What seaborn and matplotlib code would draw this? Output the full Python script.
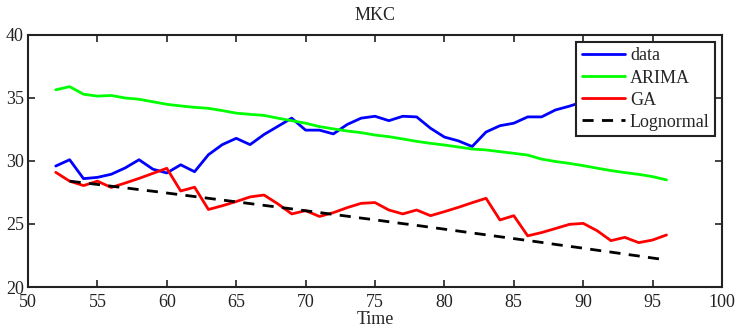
import matplotlib
matplotlib.use("Agg")
import matplotlib.pyplot as plt
import seaborn as sns

# Time steps of the forecast window
time = list(range(52, 97))

data_vals = [29.6, 30.1, 28.6, 28.7, 28.95, 29.45, 30.1, 29.35, 29.05, 29.7,
             29.15, 30.5, 31.3, 31.8, 31.3, 32.1, 32.75, 33.4, 32.45, 32.45,
             32.15, 32.9, 33.4, 33.55, 33.2, 33.55, 33.5, 32.6, 31.9, 31.6,
             31.15, 32.3, 32.8, 33.0, 33.5, 33.5, 34.05, 34.35, 34.7, 35.0,
             35.4, 35.9, 36.2, 36.6, 37.0]

arima_vals = [35.65, 35.9, 35.3, 35.15, 35.2, 35.0, 34.9, 34.7, 34.5, 34.37,
              34.26, 34.18, 34.0, 33.8, 33.7, 33.62, 33.4, 33.2, 33.0, 32.73,
              32.55, 32.38, 32.25, 32.06, 31.93, 31.75, 31.56, 31.4, 31.27, 31.11,
              30.95, 30.88, 30.74, 30.61, 30.47, 30.15, 29.96, 29.81, 29.63, 29.43,
              29.24, 29.08, 28.94, 28.76, 28.5]

ga_vals = [29.1, 28.4, 28.05, 28.4, 27.9, 28.25, 28.62, 29.02, 29.42, 27.62,
           27.92, 26.15, 26.45, 26.78, 27.15, 27.3, 26.6, 25.8, 26.06, 25.6,
           25.9, 26.3, 26.64, 26.7, 26.11, 25.8, 26.11, 25.66, 25.98, 26.32,
           26.69, 27.04, 25.32, 25.66, 24.06, 24.32, 24.64, 24.97, 25.05, 24.47,
           23.68, 23.94, 23.52, 23.73, 24.13]

lognormal_time = list(range(53, 97))
lognormal_vals = [28.40, 28.27, 28.14, 28.00, 27.87, 27.73, 27.60, 27.46, 27.32, 27.18,
                  27.04, 26.90, 26.76, 26.62, 26.48, 26.34, 26.20, 26.05, 25.91, 25.76,
                  25.62, 25.47, 25.33, 25.18, 25.03, 24.89, 24.74, 24.59, 24.44, 24.29,
                  24.14, 23.99, 23.84, 23.69, 23.54, 23.38, 23.23, 23.08, 22.92, 22.77,
                  22.61, 22.46, 22.30, 22.15]

x_ticks = [50, 55, 60, 65, 70, 75, 80, 85, 90, 95, 100]
y_ticks = [20, 25, 30, 35, 40]

sns.set_style("ticks")
plt.rcParams["font.family"] = ["Liberation Serif", "DejaVu Serif"]
plt.rcParams["xtick.direction"] = "in"
plt.rcParams["ytick.direction"] = "in"

fig = plt.figure(figsize=(7.35, 3.3), dpi=100)
ax = fig.add_axes([28 / 735, 1 - 287 / 330, (722 - 28) / 735, (287 - 35) / 330])

lw = 2.0
sns.lineplot(x=time, y=data_vals, color=(0.0, 0.0, 1.0), lw=lw, label="data", ax=ax)
sns.lineplot(x=time, y=arima_vals, color=(0.0, 1.0, 0.0), lw=lw, label="ARIMA", ax=ax)
sns.lineplot(x=time, y=ga_vals, color=(1.0, 0.0, 0.0), lw=lw, label="GA", ax=ax)
sns.lineplot(x=lognormal_time, y=lognormal_vals, color="black", lw=lw,
             linestyle=(0, (4, 3)), label="Lognormal", ax=ax)

ax.set_xlim(50, 100)
ax.set_ylim(20, 40)
ax.set_xticks(x_ticks)
ax.set_yticks(y_ticks)
ax.tick_params(axis="x", pad=5)
ax.tick_params(axis="y", pad=3)
ax.tick_params(axis="both", labelsize=13, length=5, width=1.2, top=True, right=True,
               colors="#222222")
for sp in ax.spines.values():
    sp.set_visible(True)
    sp.set_linewidth(1.5)
    sp.set_color("#222222")

ax.set_title("MKC", fontsize=13, pad=11)
ax.set_xlabel("Time", fontsize=13, labelpad=0)
ax.set_ylabel("")

leg = ax.legend(loc="upper right", bbox_to_anchor=(0.99, 0.972), fontsize=13,
                frameon=True, fancybox=False, framealpha=1.0, edgecolor="#222222",
                handlelength=2.4, handletextpad=0.28, labelspacing=0.28,
                borderpad=0.3, borderaxespad=0.0)
leg.get_frame().set_linewidth(1.5)

fig.savefig("out.png", dpi=100)
